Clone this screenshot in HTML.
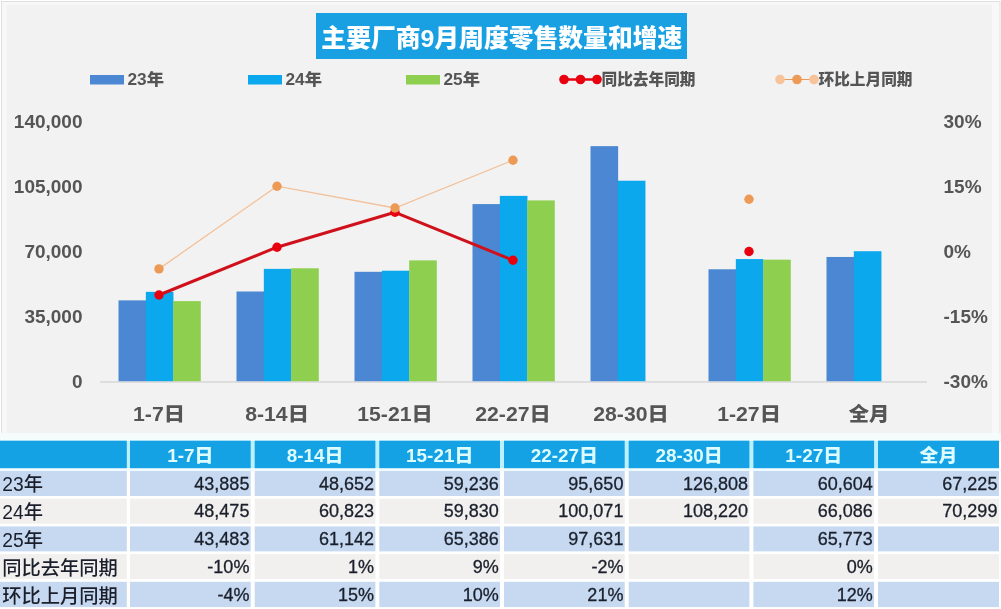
<!DOCTYPE html>
<html lang="zh-CN"><head><meta charset="utf-8"><title>主要厂商9月周度零售数量和增速</title>
<style>
html,body{margin:0;padding:0;background:#fff;}
body{width:1001px;height:609px;overflow:hidden;position:relative;}
svg{display:block;position:absolute;left:0;top:0;filter:blur(0.45px);}
text{font-family:"Liberation Sans","Noto Sans CJK SC",sans-serif;}
.b{font-weight:900;fill:#555;}
.ax{font-size:19px;}
.cat{font-size:19.5px;text-anchor:middle;}
.lg{font-size:16px;}
.tt{font-size:24.8px;font-weight:900;fill:#fff;text-anchor:middle;}
.th{font-size:18px;font-weight:900;fill:#dcfcff;text-anchor:middle;}
.td{font-size:18px;fill:#1a1f2b;text-anchor:end;stroke:#1a1f2b;stroke-width:0.3px;}
.rl{font-size:19.3px;fill:#1a1f2b;font-weight:500;}
</style></head><body>
<svg width="1001" height="609" viewBox="0 0 1001 609">
<rect x="0" y="0" width="1001" height="609" fill="#ffffff"/>
<rect x="1.5" y="1.5" width="998.5" height="440" fill="#f8f8f8" stroke="#e0e0e0" stroke-width="1"/>
<rect x="6.5" y="5" width="985.5" height="428" fill="#f2f2f2"/>
<rect x="0" y="433" width="1001" height="8" fill="#f6fbfb"/>
<rect x="0" y="440.7" width="999" height="27.5" fill="#bdf0ff"/>
<rect x="0" y="468.2" width="1001" height="3" fill="#f0fbff"/>
<rect x="316" y="13" width="371" height="46" fill="#19a0e3"/>
<text class="tt" transform="translate(501.8,46.5) scale(1.0,1)">主要厂商9月周度零售数量和增速</text>
<rect x="90" y="75" width="34" height="9.5" fill="#4b87d2"/>
<text class="b lg" transform="translate(127.5,85.2) scale(1.08,1)">23年</text>
<rect x="248" y="75" width="34" height="9.5" fill="#0ba8ee"/>
<text class="b lg" transform="translate(285.5,85.2) scale(1.08,1)">24年</text>
<rect x="406" y="75" width="34" height="9.5" fill="#8fcf50"/>
<text class="b lg" transform="translate(443.5,85.2) scale(1.08,1)">25年</text>
<line x1="564" y1="79.5" x2="597" y2="79.5" stroke="#e8000f" stroke-width="2.5"/>
<circle cx="564" cy="79.5" r="4.8" fill="#e8000f"/>
<circle cx="580.5" cy="79.5" r="4.8" fill="#e8000f"/>
<circle cx="597" cy="79.5" r="4.8" fill="#e8000f"/>
<text class="b lg" transform="translate(601.5,85.2) scale(0.98,1)">同比去年同期</text>
<line x1="780" y1="79.5" x2="814" y2="79.5" stroke="#ec9a55" stroke-width="1.2"/>
<circle cx="780" cy="79.5" r="4.8" fill="#f6c39b"/>
<circle cx="797" cy="79.5" r="4.8" fill="#ec9a55"/>
<circle cx="814" cy="79.5" r="4.8" fill="#f6c39b"/>
<text class="b lg" transform="translate(818.5,85.2) scale(0.98,1)">环比上月同期</text>
<text class="b ax" transform="translate(82.5,388.4) scale(1.0,1)" text-anchor="end">0</text>
<text class="b ax" transform="translate(82.5,323.2) scale(1.0,1)" text-anchor="end">35,000</text>
<text class="b ax" transform="translate(82.5,258.0) scale(1.0,1)" text-anchor="end">70,000</text>
<text class="b ax" transform="translate(82.5,192.8) scale(1.0,1)" text-anchor="end">105,000</text>
<text class="b ax" transform="translate(82.5,127.6) scale(1.0,1)" text-anchor="end">140,000</text>
<text class="b ax" transform="translate(943.5,388.4) scale(1.0,1)">-30%</text>
<text class="b ax" transform="translate(943.5,323.2) scale(1.0,1)">-15%</text>
<text class="b ax" transform="translate(943.5,258.0) scale(1.0,1)">0%</text>
<text class="b ax" transform="translate(943.5,192.8) scale(1.0,1)">15%</text>
<text class="b ax" transform="translate(943.5,127.6) scale(1.0,1)">30%</text>
<rect x="118.50" y="300.37" width="27.63" height="81.63" fill="#4b87d2"/>
<rect x="145.83" y="291.84" width="27.63" height="90.16" fill="#0ba8ee"/>
<rect x="173.17" y="301.12" width="27.63" height="80.88" fill="#8fcf50"/>
<rect x="236.50" y="291.51" width="27.63" height="90.49" fill="#4b87d2"/>
<rect x="263.83" y="268.87" width="27.63" height="113.13" fill="#0ba8ee"/>
<rect x="291.17" y="268.28" width="27.63" height="113.72" fill="#8fcf50"/>
<rect x="354.50" y="271.82" width="27.63" height="110.18" fill="#4b87d2"/>
<rect x="381.83" y="270.72" width="27.63" height="111.28" fill="#0ba8ee"/>
<rect x="409.17" y="260.38" width="27.63" height="121.62" fill="#8fcf50"/>
<rect x="472.50" y="204.09" width="27.63" height="177.91" fill="#4b87d2"/>
<rect x="499.83" y="195.87" width="27.63" height="186.13" fill="#0ba8ee"/>
<rect x="527.17" y="200.41" width="27.63" height="181.59" fill="#8fcf50"/>
<rect x="590.50" y="146.14" width="27.63" height="235.86" fill="#4b87d2"/>
<rect x="617.83" y="180.71" width="27.63" height="201.29" fill="#0ba8ee"/>
<rect x="708.50" y="269.28" width="27.63" height="112.72" fill="#4b87d2"/>
<rect x="735.83" y="259.08" width="27.63" height="122.92" fill="#0ba8ee"/>
<rect x="763.17" y="259.66" width="27.63" height="122.34" fill="#8fcf50"/>
<rect x="826.50" y="256.96" width="27.63" height="125.04" fill="#4b87d2"/>
<rect x="853.83" y="251.24" width="27.63" height="130.76" fill="#0ba8ee"/>
<rect x="100" y="381.2" width="827" height="1.6" fill="#d9d9d9"/>
<polyline fill="none" stroke="#d0111b" stroke-width="3" stroke-linejoin="round" points="159.0,295.0 277.0,247.2 395.0,212.3 513.0,260.2"/>
<circle cx="159.0" cy="295.0" r="4.7" fill="#e8000f"/>
<circle cx="277.0" cy="247.2" r="4.7" fill="#e8000f"/>
<circle cx="395.0" cy="212.3" r="4.7" fill="#e8000f"/>
<circle cx="513.0" cy="260.2" r="4.7" fill="#e8000f"/>
<circle cx="749.0" cy="251.5" r="4.7" fill="#e8000f"/>
<polyline fill="none" stroke="#f3c199" stroke-width="1.3" points="159.0,268.9 277.0,186.2 395.0,208.0 513.0,160.2"/>
<circle cx="159.0" cy="268.9" r="4.7" fill="#ec9a55"/>
<circle cx="277.0" cy="186.2" r="4.7" fill="#ec9a55"/>
<circle cx="395.0" cy="208.0" r="4.7" fill="#ec9a55"/>
<circle cx="513.0" cy="160.2" r="4.7" fill="#ec9a55"/>
<circle cx="749.0" cy="199.3" r="4.7" fill="#ec9a55"/>
<text class="b cat" transform="translate(159.0,420.5) scale(1.09,1)">1-7日</text>
<text class="b cat" transform="translate(277.0,420.5) scale(1.09,1)">8-14日</text>
<text class="b cat" transform="translate(395.0,420.5) scale(1.09,1)">15-21日</text>
<text class="b cat" transform="translate(513.0,420.5) scale(1.09,1)">22-27日</text>
<text class="b cat" transform="translate(631.0,420.5) scale(1.09,1)">28-30日</text>
<text class="b cat" transform="translate(749.0,420.5) scale(1.09,1)">1-27日</text>
<text class="b cat" transform="translate(869.0,420.5) scale(1.04,1)">全月</text>
<rect x="0.0" y="440.7" width="126.8" height="27.5" fill="#14a2e5"/>
<rect x="130.0" y="440.7" width="120.7" height="27.5" fill="#14a2e5"/>
<rect x="254.7" y="440.7" width="120.7" height="27.5" fill="#14a2e5"/>
<rect x="379.3" y="440.7" width="120.7" height="27.5" fill="#14a2e5"/>
<rect x="504.0" y="440.7" width="120.7" height="27.5" fill="#14a2e5"/>
<rect x="628.7" y="440.7" width="120.7" height="27.5" fill="#14a2e5"/>
<rect x="753.4" y="440.7" width="120.7" height="27.5" fill="#14a2e5"/>
<rect x="878.0" y="440.7" width="121.0" height="27.5" fill="#14a2e5"/>
<rect x="0.0" y="471.0" width="126.8" height="25.0" fill="#c6d9f1"/>
<rect x="130.0" y="471.0" width="120.7" height="25.0" fill="#c6d9f1"/>
<rect x="254.7" y="471.0" width="120.7" height="25.0" fill="#c6d9f1"/>
<rect x="379.3" y="471.0" width="120.7" height="25.0" fill="#c6d9f1"/>
<rect x="504.0" y="471.0" width="120.7" height="25.0" fill="#c6d9f1"/>
<rect x="628.7" y="471.0" width="120.7" height="25.0" fill="#c6d9f1"/>
<rect x="753.4" y="471.0" width="120.7" height="25.0" fill="#c6d9f1"/>
<rect x="878.0" y="471.0" width="121.0" height="25.0" fill="#c6d9f1"/>
<rect x="0.0" y="498.7" width="126.8" height="25.0" fill="#f1f0ee"/>
<rect x="130.0" y="498.7" width="120.7" height="25.0" fill="#f1f0ee"/>
<rect x="254.7" y="498.7" width="120.7" height="25.0" fill="#f1f0ee"/>
<rect x="379.3" y="498.7" width="120.7" height="25.0" fill="#f1f0ee"/>
<rect x="504.0" y="498.7" width="120.7" height="25.0" fill="#f1f0ee"/>
<rect x="628.7" y="498.7" width="120.7" height="25.0" fill="#f1f0ee"/>
<rect x="753.4" y="498.7" width="120.7" height="25.0" fill="#f1f0ee"/>
<rect x="878.0" y="498.7" width="121.0" height="25.0" fill="#f1f0ee"/>
<rect x="0.0" y="526.4" width="126.8" height="25.0" fill="#c6d9f1"/>
<rect x="130.0" y="526.4" width="120.7" height="25.0" fill="#c6d9f1"/>
<rect x="254.7" y="526.4" width="120.7" height="25.0" fill="#c6d9f1"/>
<rect x="379.3" y="526.4" width="120.7" height="25.0" fill="#c6d9f1"/>
<rect x="504.0" y="526.4" width="120.7" height="25.0" fill="#c6d9f1"/>
<rect x="628.7" y="526.4" width="120.7" height="25.0" fill="#c6d9f1"/>
<rect x="753.4" y="526.4" width="120.7" height="25.0" fill="#c6d9f1"/>
<rect x="878.0" y="526.4" width="121.0" height="25.0" fill="#c6d9f1"/>
<rect x="0.0" y="554.1" width="126.8" height="25.0" fill="#f1f0ee"/>
<rect x="130.0" y="554.1" width="120.7" height="25.0" fill="#f1f0ee"/>
<rect x="254.7" y="554.1" width="120.7" height="25.0" fill="#f1f0ee"/>
<rect x="379.3" y="554.1" width="120.7" height="25.0" fill="#f1f0ee"/>
<rect x="504.0" y="554.1" width="120.7" height="25.0" fill="#f1f0ee"/>
<rect x="628.7" y="554.1" width="120.7" height="25.0" fill="#f1f0ee"/>
<rect x="753.4" y="554.1" width="120.7" height="25.0" fill="#f1f0ee"/>
<rect x="878.0" y="554.1" width="121.0" height="25.0" fill="#f1f0ee"/>
<rect x="0.0" y="581.8" width="126.8" height="25.3" fill="#c6d9f1"/>
<rect x="130.0" y="581.8" width="120.7" height="25.3" fill="#c6d9f1"/>
<rect x="254.7" y="581.8" width="120.7" height="25.3" fill="#c6d9f1"/>
<rect x="379.3" y="581.8" width="120.7" height="25.3" fill="#c6d9f1"/>
<rect x="504.0" y="581.8" width="120.7" height="25.3" fill="#c6d9f1"/>
<rect x="628.7" y="581.8" width="120.7" height="25.3" fill="#c6d9f1"/>
<rect x="753.4" y="581.8" width="120.7" height="25.3" fill="#c6d9f1"/>
<rect x="878.0" y="581.8" width="121.0" height="25.3" fill="#c6d9f1"/>
<text class="th" transform="translate(190.3,461.5) scale(1.05,1)">1-7日</text>
<text class="th" transform="translate(315.0,461.5) scale(1.05,1)">8-14日</text>
<text class="th" transform="translate(439.7,461.5) scale(1.05,1)">15-21日</text>
<text class="th" transform="translate(564.4,461.5) scale(1.05,1)">22-27日</text>
<text class="th" transform="translate(689.0,461.5) scale(1.05,1)">28-30日</text>
<text class="th" transform="translate(813.7,461.5) scale(1.05,1)">1-27日</text>
<text class="th" transform="translate(938.4,461.5) scale(1.05,1)">全月</text>
<text class="rl" transform="translate(2.2,491.1) scale(1.0,1)">23年</text>
<text class="td" transform="translate(249.4,489.5) scale(1.0,1)">43,885</text>
<text class="td" transform="translate(374.1,489.5) scale(1.0,1)">48,652</text>
<text class="td" transform="translate(498.7,489.5) scale(1.0,1)">59,236</text>
<text class="td" transform="translate(623.4,489.5) scale(1.0,1)">95,650</text>
<text class="td" transform="translate(748.1,489.5) scale(1.0,1)">126,808</text>
<text class="td" transform="translate(872.8,489.5) scale(1.0,1)">60,604</text>
<text class="td" transform="translate(997.4,489.5) scale(1.0,1)">67,225</text>
<text class="rl" transform="translate(2.2,519.0) scale(1.0,1)">24年</text>
<text class="td" transform="translate(249.4,517.4) scale(1.0,1)">48,475</text>
<text class="td" transform="translate(374.1,517.4) scale(1.0,1)">60,823</text>
<text class="td" transform="translate(498.7,517.4) scale(1.0,1)">59,830</text>
<text class="td" transform="translate(623.4,517.4) scale(1.0,1)">100,071</text>
<text class="td" transform="translate(748.1,517.4) scale(1.0,1)">108,220</text>
<text class="td" transform="translate(872.8,517.4) scale(1.0,1)">66,086</text>
<text class="td" transform="translate(997.4,517.4) scale(1.0,1)">70,299</text>
<text class="rl" transform="translate(2.2,546.9) scale(1.0,1)">25年</text>
<text class="td" transform="translate(249.4,545.3) scale(1.0,1)">43,483</text>
<text class="td" transform="translate(374.1,545.3) scale(1.0,1)">61,142</text>
<text class="td" transform="translate(498.7,545.3) scale(1.0,1)">65,386</text>
<text class="td" transform="translate(623.4,545.3) scale(1.0,1)">97,631</text>
<text class="td" transform="translate(872.8,545.3) scale(1.0,1)">65,773</text>
<text class="rl" transform="translate(2.2,574.8) scale(1.0,1)">同比去年同期</text>
<text class="td" transform="translate(249.4,573.2) scale(1.0,1)">-10%</text>
<text class="td" transform="translate(374.1,573.2) scale(1.0,1)">1%</text>
<text class="td" transform="translate(498.7,573.2) scale(1.0,1)">9%</text>
<text class="td" transform="translate(623.4,573.2) scale(1.0,1)">-2%</text>
<text class="td" transform="translate(872.8,573.2) scale(1.0,1)">0%</text>
<text class="rl" transform="translate(2.2,602.7) scale(1.0,1)">环比上月同期</text>
<text class="td" transform="translate(249.4,601.1) scale(1.0,1)">-4%</text>
<text class="td" transform="translate(374.1,601.1) scale(1.0,1)">15%</text>
<text class="td" transform="translate(498.7,601.1) scale(1.0,1)">10%</text>
<text class="td" transform="translate(623.4,601.1) scale(1.0,1)">21%</text>
<text class="td" transform="translate(872.8,601.1) scale(1.0,1)">12%</text>
</svg></body></html>
